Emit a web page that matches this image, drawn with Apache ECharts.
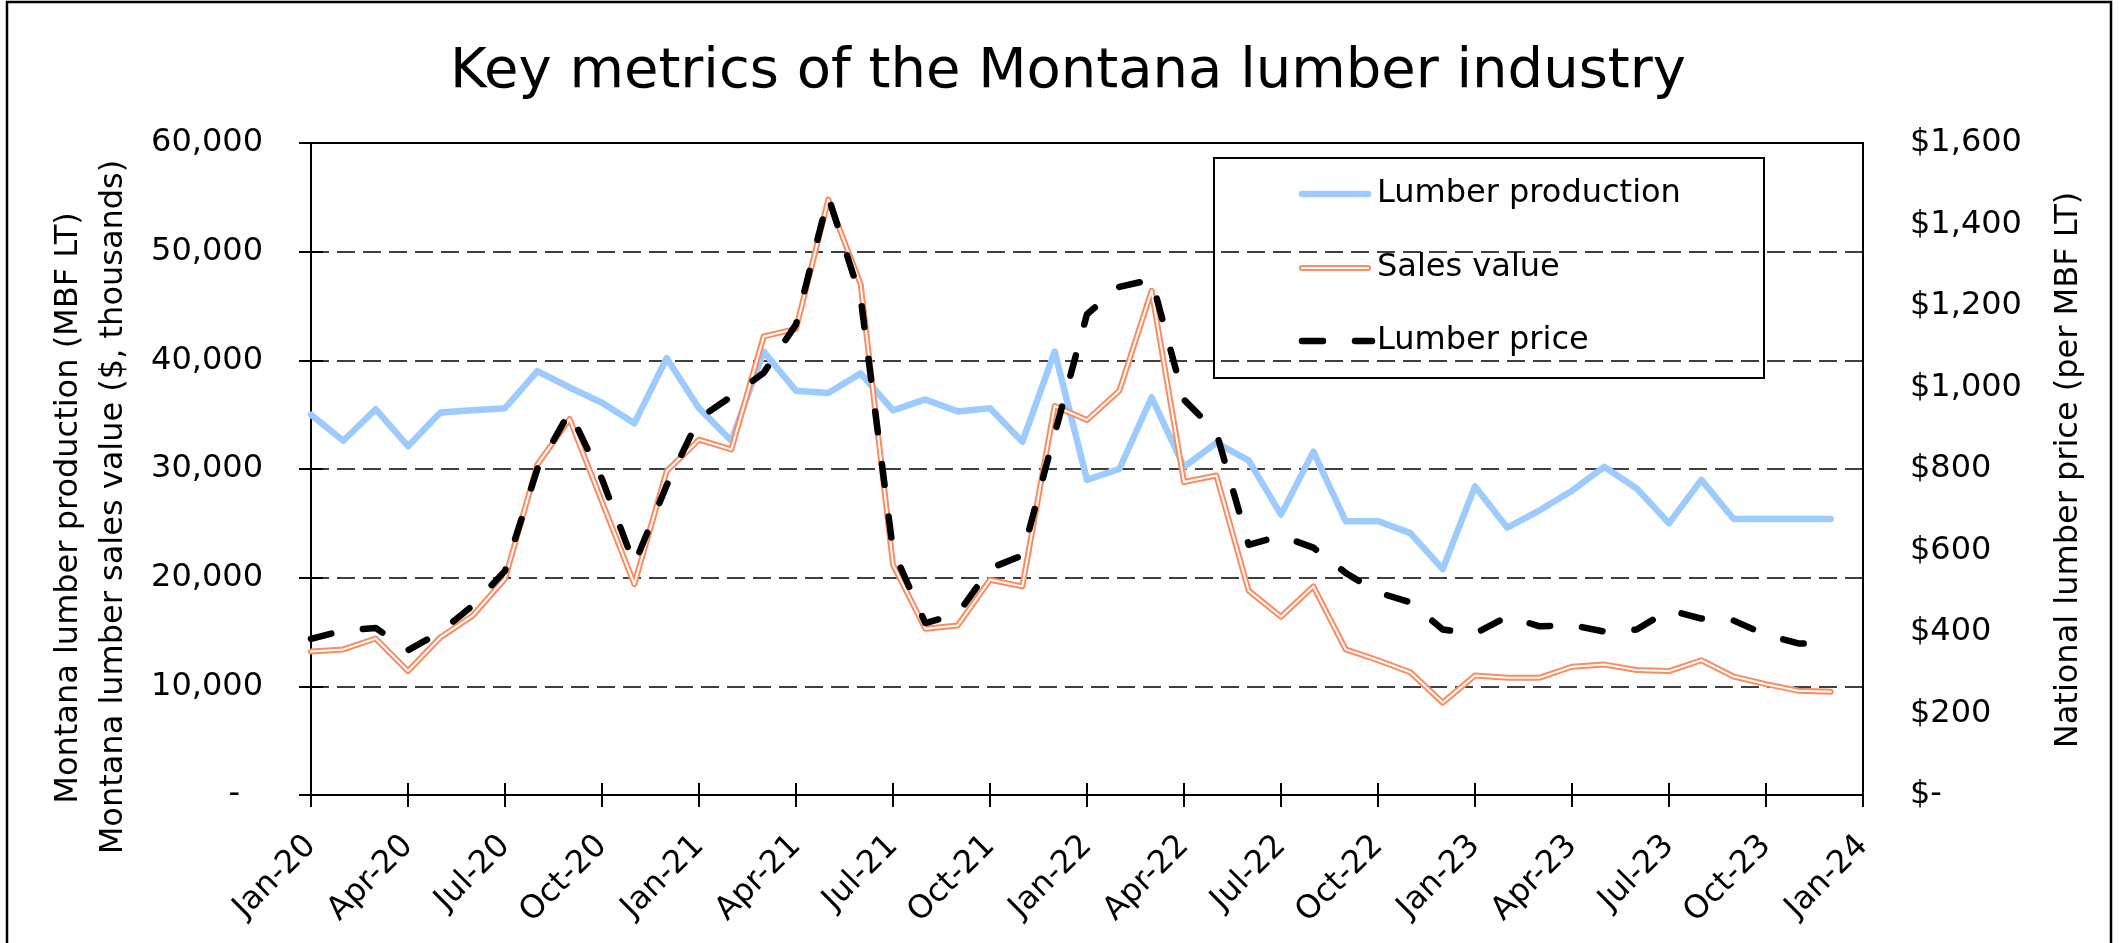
<!DOCTYPE html>
<html>
<head>
<meta charset="utf-8">
<script src="https://cdn.jsdelivr.net/npm/echarts@6/dist/echarts.min.js"></script>
<style>
  html, body { margin: 0; padding: 0; background: #fff; }
  #main { width: 2119px; height: 943px; }
</style>
</head>
<body>
<div id="main"></div>
<script>
// month categories, Jan-20 .. Jan-24 (data stops at Dec-23)
const months = [
  'Jan-20', 'Feb-20', 'Mar-20', 'Apr-20', 'May-20', 'Jun-20', 'Jul-20', 'Aug-20', 'Sep-20', 'Oct-20', 'Nov-20', 'Dec-20',
  'Jan-21', 'Feb-21', 'Mar-21', 'Apr-21', 'May-21', 'Jun-21', 'Jul-21', 'Aug-21', 'Sep-21', 'Oct-21', 'Nov-21', 'Dec-21',
  'Jan-22', 'Feb-22', 'Mar-22', 'Apr-22', 'May-22', 'Jun-22', 'Jul-22', 'Aug-22', 'Sep-22', 'Oct-22', 'Nov-22', 'Dec-22',
  'Jan-23', 'Feb-23', 'Mar-23', 'Apr-23', 'May-23', 'Jun-23', 'Jul-23', 'Aug-23', 'Sep-23', 'Oct-23', 'Nov-23', 'Dec-23',
  'Jan-24'
]

// Montana lumber production (MBF LT) - left axis
const production = [
  35000, 32600, 35500, 32100, 35200, 35400, 35600, 39000, 37500, 36100, 34200, 40200,
  35600, 32600, 40800, 37200, 37000, 38800, 35400, 36400, 35300, 35600, 32500, 40800,
  29000, 30000, 36600, 30200, 32400, 30800, 25800, 31600, 25200, 25200, 24100, 20800,
  28400, 24600, 26200, 28000, 30200, 28200, 25000, 29000, 25400, 25400, 25400, 25400
]

// Montana lumber sales value ($, thousands) - left axis
const sales = [
  13200, 13400, 14400, 11400, 14500, 16500, 19900, 30400, 34600, 27000, 19400, 29800,
  32700, 31800, 42200, 42900, 54800, 47000, 21200, 15300, 15600, 19800, 19200, 35800,
  34500, 37200, 46400, 28800, 29400, 18800, 16400, 19200, 13400, 12400, 11300, 8500,
  11000, 10800, 10800, 11800, 12000, 11500, 11400, 12400, 10900, 10200, 9600, 9500
]

// national lumber price ($ per MBF LT) - right axis
const price = [
  383, 404, 410, 355, 400, 465, 550, 800, 940, 775, 566, 760,
  924, 978, 1036, 1155, 1468, 1220, 600, 422, 444, 556, 588, 886,
  1180, 1247, 1265, 970, 890, 614, 636, 607, 545, 497, 473, 406,
  396, 438, 414, 417, 401, 406, 454, 433, 428, 393, 372, 372
]

const FONT = '"DejaVu Sans", Verdana, sans-serif'
const BLUE = '#9dcbfd'
const ORANGE = '#fc8b5f'

var myChart = echarts.init(document.getElementById('main'), null, { renderer: 'canvas' })

var option = {
  animation: false,
  backgroundColor: '#fff',
  grid: {
    left: 311,
    right: 256,
    top: 143,
    bottom: 148,
    show: true,
    borderColor: '#000',
    borderWidth: 2
  },
  xAxis: [
    {
      type: 'category',
      data: months,
      boundaryGap: false,
      axisLine: { lineStyle: { color: '#000', width: 2 } },
      axisTick: { interval: 2, length: 12, lineStyle: { color: '#000', width: 2 } },
      axisLabel: {
        interval: 2,
        rotate: 45,
        margin: 46,
        color: '#000',
        fontSize: 32,
        fontFamily: FONT
      },
      splitLine: { show: false }
    },
    {
      // second copy only for the inner half of the crossing ticks
      type: 'category',
      data: months,
      boundaryGap: false,
      position: 'bottom',
      axisLine: { show: false },
      axisTick: { inside: true, interval: 2, length: 12, lineStyle: { color: '#000', width: 2 } },
      axisLabel: { show: false },
      splitLine: { show: false }
    }
  ],
  yAxis: [
    {
      type: 'value',
      min: 0,
      max: 60000,
      interval: 10000,
      position: 'left',
      axisLine: { show: true, lineStyle: { color: '#000', width: 2 } },
      axisTick: { show: true, length: 12, lineStyle: { color: '#000', width: 2 } },
      axisLabel: {
        margin: 48,
        color: '#000',
        fontSize: 32,
        fontFamily: FONT,
        formatter: function (v) {
          return v === 0 ? '{z|-}' : v.toLocaleString('en-US')
        },
        rich: {
          z: { fontSize: 32, fontFamily: FONT, color: '#000', padding: [0, 23, 0, 0] }
        }
      },
      splitLine: { show: true, lineStyle: { color: '#000', width: 1.5, type: [18, 8] } }
    },
    {
      type: 'value',
      min: 0,
      max: 1600,
      interval: 200,
      position: 'right',
      axisLine: { show: true, lineStyle: { color: '#000', width: 2 } },
      axisTick: { show: false },
      axisLabel: {
        margin: 47,
        color: '#000',
        fontSize: 32,
        fontFamily: FONT,
        formatter: function (v) {
          return v === 0 ? '$-' : '$' + v.toLocaleString('en-US')
        }
      },
      splitLine: { show: false }
    },
    {
      // inner half of the crossing ticks on the left axis
      type: 'value',
      min: 0,
      max: 60000,
      interval: 10000,
      position: 'left',
      axisLine: { show: false },
      axisTick: { show: true, inside: true, length: 12, lineStyle: { color: '#000', width: 2 } },
      axisLabel: { show: false },
      splitLine: { show: false }
    }
  ],
  series: [
    {
      name: 'Lumber production',
      type: 'line',
      xAxisIndex: 0,
      yAxisIndex: 0,
      data: production,
      showSymbol: false,
      symbol: 'none',
      lineStyle: { color: BLUE, width: 6.5, cap: 'round', join: 'round' }
    },
    {
      name: 'Sales value',
      type: 'line',
      xAxisIndex: 0,
      yAxisIndex: 0,
      data: sales,
      showSymbol: false,
      symbol: 'none',
      lineStyle: { color: ORANGE, width: 6, cap: 'round', join: 'round' }
    },
    {
      name: '.sales-inner',
      type: 'line',
      xAxisIndex: 0,
      yAxisIndex: 0,
      data: sales,
      showSymbol: false,
      symbol: 'none',
      lineStyle: { color: '#fff', width: 2, cap: 'round', join: 'round' }
    },
    {
      name: 'Lumber price',
      type: 'line',
      xAxisIndex: 0,
      yAxisIndex: 1,
      data: price,
      showSymbol: false,
      symbol: 'none',
      lineStyle: { color: '#000', width: 6.5, type: [21, 32], cap: 'round', join: 'round' }
    }
  ],
  graphic: [
    // outer chart frame
    {
      type: 'rect',
      shape: { x: 7, y: 2, width: 2104, height: 946 },
      style: { fill: 'none', stroke: '#000', lineWidth: 2.5 },
      silent: true,
      z: 0
    },
    {
      type: 'text',
      x: 1068,
      y: 72,
      style: { text: 'Key metrics of the Montana lumber industry', font: '56px ' + FONT, fill: '#000', align: 'center', verticalAlign: 'middle' }
    },
    {
      type: 'text',
      x: 69,
      y: 508,
      rotation: Math.PI / 2,
      style: { text: 'Montana lumber production (MBF LT)', font: '32px ' + FONT, fill: '#000', align: 'center', verticalAlign: 'middle' }
    },
    {
      type: 'text',
      x: 114,
      y: 507,
      rotation: Math.PI / 2,
      style: { text: 'Montana lumber sales value ($, thousands)', font: '32px ' + FONT, fill: '#000', align: 'center', verticalAlign: 'middle' }
    },
    {
      type: 'text',
      x: 2069,
      y: 470,
      rotation: Math.PI / 2,
      style: { text: 'National lumber price (per MBF LT)', font: '32px ' + FONT, fill: '#000', align: 'center', verticalAlign: 'middle' }
    },
    // legend box
    {
      type: 'group',
      z: 100,
      children: [
        { type: 'rect', shape: { x: 1214, y: 158, width: 550, height: 220 }, style: { fill: '#fff', stroke: '#000', lineWidth: 2 } },
        { type: 'line', shape: { x1: 1302, y1: 194, x2: 1368, y2: 194 }, style: { stroke: BLUE, lineWidth: 6.5, lineCap: 'round' } },
        { type: 'line', shape: { x1: 1302, y1: 268, x2: 1368, y2: 268 }, style: { stroke: ORANGE, lineWidth: 6, lineCap: 'round' } },
        { type: 'line', shape: { x1: 1302, y1: 268, x2: 1368, y2: 268 }, style: { stroke: '#fff', lineWidth: 2, lineCap: 'round' } },
        { type: 'line', shape: { x1: 1302, y1: 341, x2: 1372, y2: 341 }, style: { stroke: '#000', lineWidth: 6.5, lineCap: 'round', lineDash: [21, 32] } },
        { type: 'text', x: 1377, y: 194, style: { text: 'Lumber production', font: '32px ' + FONT, fill: '#000', verticalAlign: 'middle' } },
        { type: 'text', x: 1377, y: 268, style: { text: 'Sales value', font: '32px ' + FONT, fill: '#000', verticalAlign: 'middle' } },
        { type: 'text', x: 1377, y: 341, style: { text: 'Lumber price', font: '32px ' + FONT, fill: '#000', verticalAlign: 'middle' } }
      ]
    }
  ]
}

myChart.setOption(option)
</script>
</body>
</html>
